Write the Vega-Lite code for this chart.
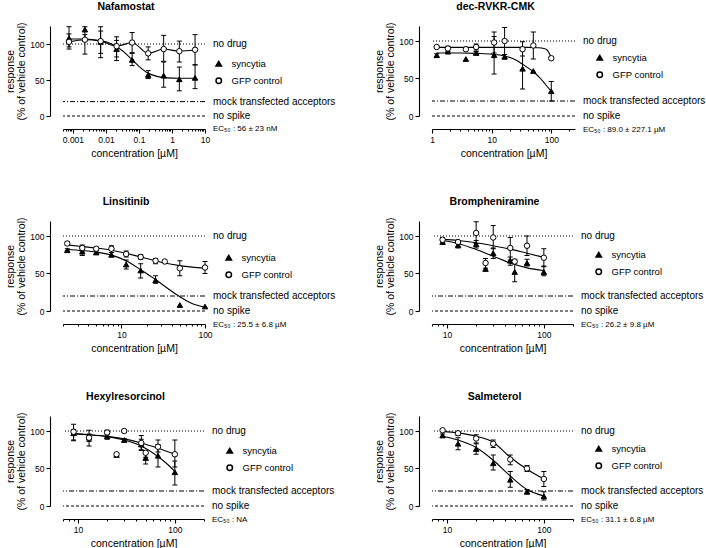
{
  "$schema": "https://vega.github.io/schema/vega-lite/v6.json",
  "padding": {"left": 5, "top": 2, "right": 0, "bottom": 0},
  "config": {
    "font": "Liberation Sans",
    "view": {"stroke": null},
    "axis": {"domainColor": "black", "domainWidth": 1.1, "tickColor": "black", "tickWidth": 1.1, "labelColor": "black", "labelFontSize": 8.5, "titleColor": "black", "titleFontSize": 10.5, "titleFontWeight": "normal", "grid": false, "labelFlush": false, "labelOverlap": false},
    "axisX": {"offset": 13, "labelPadding": 2, "titlePadding": 5},
    "axisY": {"offset": 13, "labelPadding": 2, "titlePadding": 3, "titleLineHeight": 11},
    "title": {"fontSize": 10.5, "fontWeight": "bold", "color": "black", "offset": 9, "dx": -8},
    "legend": {"labelFontSize": 9.5, "labelColor": "black", "symbolSize": 30, "labelOffset": 8, "rowPadding": 5, "padding": 0}
  },
  "datasets": {
    "refs": [
      {"level": 100, "label": "no drug"},
      {"level": 20, "label": "mock transfected acceptors"},
      {"level": 0, "label": "no spike"}
    ],
    "ec50": [
      {"drug": "Nafamostat", "note": "EC₅₀ : 56 ± 23 nM"},
      {"drug": "dec-RVKR-CMK", "note": "EC₅₀ : 89.0 ± 227.1 µM"},
      {"drug": "Linsitinib", "note": "EC₅₀ : 25.5 ± 6.8 µM"},
      {"drug": "Brompheniramine", "note": "EC₅₀ : 26.2 ± 9.8 µM"},
      {"drug": "Hexylresorcinol", "note": "EC₅₀ : NA"},
      {"drug": "Salmeterol", "note": "EC₅₀ : 31.1 ± 6.8 µM"}
    ],
    "points": [
      {"drug": "Nafamostat", "series": "syncytia", "conc": 0.00076, "resp": 108, "lo": 93, "hi": 124},
      {"drug": "Nafamostat", "series": "syncytia", "conc": 0.0023, "resp": 120, "lo": 104, "hi": 124},
      {"drug": "Nafamostat", "series": "syncytia", "conc": 0.0069, "resp": 103, "lo": 81, "hi": 124},
      {"drug": "Nafamostat", "series": "syncytia", "conc": 0.021, "resp": 93, "lo": 77, "hi": 105},
      {"drug": "Nafamostat", "series": "syncytia", "conc": 0.062, "resp": 78, "lo": 70, "hi": 87},
      {"drug": "Nafamostat", "series": "syncytia", "conc": 0.19, "resp": 57, "lo": 52, "hi": 63},
      {"drug": "Nafamostat", "series": "syncytia", "conc": 0.56, "resp": 56, "lo": 40, "hi": 75},
      {"drug": "Nafamostat", "series": "syncytia", "conc": 1.67, "resp": 51, "lo": 35, "hi": 68},
      {"drug": "Nafamostat", "series": "syncytia", "conc": 5, "resp": 53, "lo": 38, "hi": 71},
      {"drug": "Nafamostat", "series": "GFP control", "conc": 0.00076, "resp": 103, "lo": 96, "hi": 114},
      {"drug": "Nafamostat", "series": "GFP control", "conc": 0.0023, "resp": 106, "lo": 86, "hi": 113},
      {"drug": "Nafamostat", "series": "GFP control", "conc": 0.0069, "resp": 104, "lo": 87, "hi": 118},
      {"drug": "Nafamostat", "series": "GFP control", "conc": 0.021, "resp": 97, "lo": 82, "hi": 110},
      {"drug": "Nafamostat", "series": "GFP control", "conc": 0.062, "resp": 102, "lo": 88, "hi": 116},
      {"drug": "Nafamostat", "series": "GFP control", "conc": 0.19, "resp": 87, "lo": 78, "hi": 96},
      {"drug": "Nafamostat", "series": "GFP control", "conc": 0.56, "resp": 93, "lo": 76, "hi": 112},
      {"drug": "Nafamostat", "series": "GFP control", "conc": 1.67, "resp": 90, "lo": 75, "hi": 104},
      {"drug": "Nafamostat", "series": "GFP control", "conc": 5, "resp": 92, "lo": 71, "hi": 113},

      {"drug": "dec-RVKR-CMK", "series": "syncytia", "conc": 1.2, "resp": 81, "lo": 79, "hi": 83},
      {"drug": "dec-RVKR-CMK", "series": "syncytia", "conc": 1.85, "resp": 86, "lo": 83, "hi": 89},
      {"drug": "dec-RVKR-CMK", "series": "syncytia", "conc": 3.7, "resp": 76},
      {"drug": "dec-RVKR-CMK", "series": "syncytia", "conc": 5.5, "resp": 84, "lo": 82, "hi": 86},
      {"drug": "dec-RVKR-CMK", "series": "syncytia", "conc": 11, "resp": 81, "lo": 56, "hi": 106},
      {"drug": "dec-RVKR-CMK", "series": "syncytia", "conc": 16.5, "resp": 79, "lo": 76, "hi": 82},
      {"drug": "dec-RVKR-CMK", "series": "syncytia", "conc": 33, "resp": 63, "lo": 36, "hi": 88},
      {"drug": "dec-RVKR-CMK", "series": "syncytia", "conc": 50, "resp": 60},
      {"drug": "dec-RVKR-CMK", "series": "syncytia", "conc": 100, "resp": 33, "lo": 20, "hi": 46},
      {"drug": "dec-RVKR-CMK", "series": "GFP control", "conc": 1.2, "resp": 92},
      {"drug": "dec-RVKR-CMK", "series": "GFP control", "conc": 1.85, "resp": 90, "lo": 86, "hi": 93},
      {"drug": "dec-RVKR-CMK", "series": "GFP control", "conc": 3.7, "resp": 89},
      {"drug": "dec-RVKR-CMK", "series": "GFP control", "conc": 5.5, "resp": 92, "lo": 88, "hi": 96},
      {"drug": "dec-RVKR-CMK", "series": "GFP control", "conc": 11, "resp": 98, "lo": 84, "hi": 112},
      {"drug": "dec-RVKR-CMK", "series": "GFP control", "conc": 16.5, "resp": 100, "lo": 82, "hi": 118},
      {"drug": "dec-RVKR-CMK", "series": "GFP control", "conc": 33, "resp": 89, "lo": 80, "hi": 99},
      {"drug": "dec-RVKR-CMK", "series": "GFP control", "conc": 50, "resp": 94, "lo": 76, "hi": 112},
      {"drug": "dec-RVKR-CMK", "series": "GFP control", "conc": 100, "resp": 77, "lo": 75, "hi": 79},

      {"drug": "Linsitinib", "series": "syncytia", "conc": 2.25, "resp": 81, "lo": 80, "hi": 83},
      {"drug": "Linsitinib", "series": "syncytia", "conc": 3.4, "resp": 79, "lo": 74, "hi": 84},
      {"drug": "Linsitinib", "series": "syncytia", "conc": 5, "resp": 78, "lo": 76, "hi": 80},
      {"drug": "Linsitinib", "series": "syncytia", "conc": 7.6, "resp": 75, "lo": 72, "hi": 78},
      {"drug": "Linsitinib", "series": "syncytia", "conc": 11.4, "resp": 62, "lo": 56, "hi": 68},
      {"drug": "Linsitinib", "series": "syncytia", "conc": 17, "resp": 54, "lo": 44, "hi": 63},
      {"drug": "Linsitinib", "series": "syncytia", "conc": 25.6, "resp": 41, "lo": 37, "hi": 47},
      {"drug": "Linsitinib", "series": "syncytia", "conc": 50, "resp": 8},
      {"drug": "Linsitinib", "series": "syncytia", "conc": 100, "resp": 6},
      {"drug": "Linsitinib", "series": "GFP control", "conc": 2.25, "resp": 90, "lo": 88, "hi": 92},
      {"drug": "Linsitinib", "series": "GFP control", "conc": 3.4, "resp": 84, "lo": 79, "hi": 88},
      {"drug": "Linsitinib", "series": "GFP control", "conc": 5, "resp": 83, "lo": 81, "hi": 85},
      {"drug": "Linsitinib", "series": "GFP control", "conc": 7.6, "resp": 83, "lo": 78, "hi": 87},
      {"drug": "Linsitinib", "series": "GFP control", "conc": 11.4, "resp": 76, "lo": 72, "hi": 80},
      {"drug": "Linsitinib", "series": "GFP control", "conc": 17, "resp": 72, "lo": 69, "hi": 75},
      {"drug": "Linsitinib", "series": "GFP control", "conc": 25.6, "resp": 67, "lo": 63, "hi": 70},
      {"drug": "Linsitinib", "series": "GFP control", "conc": 33, "resp": 66},
      {"drug": "Linsitinib", "series": "GFP control", "conc": 50, "resp": 57, "lo": 47, "hi": 67},
      {"drug": "Linsitinib", "series": "GFP control", "conc": 100, "resp": 58, "lo": 50, "hi": 66},

      {"drug": "Brompheniramine", "series": "syncytia", "conc": 9, "resp": 92, "lo": 89, "hi": 95},
      {"drug": "Brompheniramine", "series": "syncytia", "conc": 13, "resp": 88, "lo": 84, "hi": 92},
      {"drug": "Brompheniramine", "series": "syncytia", "conc": 20, "resp": 89, "lo": 84, "hi": 94},
      {"drug": "Brompheniramine", "series": "syncytia", "conc": 25, "resp": 56},
      {"drug": "Brompheniramine", "series": "syncytia", "conc": 30, "resp": 77, "lo": 70, "hi": 84},
      {"drug": "Brompheniramine", "series": "syncytia", "conc": 45, "resp": 67, "lo": 61, "hi": 72},
      {"drug": "Brompheniramine", "series": "syncytia", "conc": 50, "resp": 52, "lo": 39, "hi": 66},
      {"drug": "Brompheniramine", "series": "syncytia", "conc": 67, "resp": 64, "lo": 60, "hi": 69},
      {"drug": "Brompheniramine", "series": "syncytia", "conc": 100, "resp": 52, "lo": 47, "hi": 60},
      {"drug": "Brompheniramine", "series": "GFP control", "conc": 9, "resp": 95, "lo": 92, "hi": 98},
      {"drug": "Brompheniramine", "series": "GFP control", "conc": 13, "resp": 92, "lo": 90, "hi": 94},
      {"drug": "Brompheniramine", "series": "GFP control", "conc": 20, "resp": 104, "lo": 90, "hi": 119},
      {"drug": "Brompheniramine", "series": "GFP control", "conc": 25, "resp": 64, "lo": 57, "hi": 70},
      {"drug": "Brompheniramine", "series": "GFP control", "conc": 30, "resp": 98, "lo": 83, "hi": 114},
      {"drug": "Brompheniramine", "series": "GFP control", "conc": 45, "resp": 84, "lo": 68, "hi": 98},
      {"drug": "Brompheniramine", "series": "GFP control", "conc": 50, "resp": 66, "lo": 63, "hi": 69},
      {"drug": "Brompheniramine", "series": "GFP control", "conc": 67, "resp": 87, "lo": 74, "hi": 100},
      {"drug": "Brompheniramine", "series": "GFP control", "conc": 100, "resp": 71, "lo": 59, "hi": 83},

      {"drug": "Hexylresorcinol", "series": "syncytia", "conc": 9, "resp": 97, "lo": 88, "hi": 102},
      {"drug": "Hexylresorcinol", "series": "syncytia", "conc": 13, "resp": 91, "lo": 86, "hi": 96},
      {"drug": "Hexylresorcinol", "series": "syncytia", "conc": 20, "resp": 93, "lo": 89, "hi": 97},
      {"drug": "Hexylresorcinol", "series": "syncytia", "conc": 25, "resp": 68},
      {"drug": "Hexylresorcinol", "series": "syncytia", "conc": 30, "resp": 88, "lo": 86, "hi": 90},
      {"drug": "Hexylresorcinol", "series": "syncytia", "conc": 45, "resp": 82, "lo": 75, "hi": 89},
      {"drug": "Hexylresorcinol", "series": "syncytia", "conc": 50, "resp": 64, "lo": 56, "hi": 73},
      {"drug": "Hexylresorcinol", "series": "syncytia", "conc": 67, "resp": 67, "lo": 52, "hi": 82},
      {"drug": "Hexylresorcinol", "series": "syncytia", "conc": 100, "resp": 45, "lo": 28, "hi": 60},
      {"drug": "Hexylresorcinol", "series": "GFP control", "conc": 9, "resp": 99, "lo": 87, "hi": 109},
      {"drug": "Hexylresorcinol", "series": "GFP control", "conc": 13, "resp": 91, "lo": 80, "hi": 101},
      {"drug": "Hexylresorcinol", "series": "GFP control", "conc": 20, "resp": 98, "lo": 95, "hi": 101},
      {"drug": "Hexylresorcinol", "series": "GFP control", "conc": 25, "resp": 69, "lo": 68, "hi": 70},
      {"drug": "Hexylresorcinol", "series": "GFP control", "conc": 30, "resp": 100, "lo": 98, "hi": 101},
      {"drug": "Hexylresorcinol", "series": "GFP control", "conc": 45, "resp": 84, "lo": 74, "hi": 94},
      {"drug": "Hexylresorcinol", "series": "GFP control", "conc": 50, "resp": 71, "lo": 65, "hi": 74},
      {"drug": "Hexylresorcinol", "series": "GFP control", "conc": 67, "resp": 79, "lo": 72, "hi": 88},
      {"drug": "Hexylresorcinol", "series": "GFP control", "conc": 100, "resp": 69, "lo": 52, "hi": 88},

      {"drug": "Salmeterol", "series": "syncytia", "conc": 9, "resp": 94, "lo": 92, "hi": 96},
      {"drug": "Salmeterol", "series": "syncytia", "conc": 13, "resp": 83, "lo": 75, "hi": 91},
      {"drug": "Salmeterol", "series": "syncytia", "conc": 20, "resp": 76, "lo": 69, "hi": 83},
      {"drug": "Salmeterol", "series": "syncytia", "conc": 30, "resp": 57, "lo": 48, "hi": 68},
      {"drug": "Salmeterol", "series": "syncytia", "conc": 45, "resp": 35, "lo": 25, "hi": 46},
      {"drug": "Salmeterol", "series": "syncytia", "conc": 67, "resp": 19, "lo": 16, "hi": 22},
      {"drug": "Salmeterol", "series": "syncytia", "conc": 100, "resp": 13, "lo": 8, "hi": 19},
      {"drug": "Salmeterol", "series": "GFP control", "conc": 9, "resp": 101, "lo": 100, "hi": 102},
      {"drug": "Salmeterol", "series": "GFP control", "conc": 13, "resp": 97, "lo": 94, "hi": 99},
      {"drug": "Salmeterol", "series": "GFP control", "conc": 20, "resp": 90, "lo": 84, "hi": 95},
      {"drug": "Salmeterol", "series": "GFP control", "conc": 30, "resp": 83, "lo": 78, "hi": 88},
      {"drug": "Salmeterol", "series": "GFP control", "conc": 45, "resp": 62, "lo": 55, "hi": 68},
      {"drug": "Salmeterol", "series": "GFP control", "conc": 67, "resp": 50, "lo": 46, "hi": 54},
      {"drug": "Salmeterol", "series": "GFP control", "conc": 100, "resp": 36, "lo": 26, "hi": 46}
    ],
    "curves": [
      {"drug": "Nafamostat", "series": "syncytia", "conc": 0.00076, "resp": 107},
      {"drug": "Nafamostat", "series": "syncytia", "conc": 0.002, "resp": 107},
      {"drug": "Nafamostat", "series": "syncytia", "conc": 0.005, "resp": 105.5},
      {"drug": "Nafamostat", "series": "syncytia", "conc": 0.01, "resp": 103},
      {"drug": "Nafamostat", "series": "syncytia", "conc": 0.02, "resp": 97},
      {"drug": "Nafamostat", "series": "syncytia", "conc": 0.035, "resp": 89},
      {"drug": "Nafamostat", "series": "syncytia", "conc": 0.056, "resp": 80},
      {"drug": "Nafamostat", "series": "syncytia", "conc": 0.1, "resp": 69},
      {"drug": "Nafamostat", "series": "syncytia", "conc": 0.18, "resp": 60},
      {"drug": "Nafamostat", "series": "syncytia", "conc": 0.35, "resp": 55},
      {"drug": "Nafamostat", "series": "syncytia", "conc": 0.7, "resp": 53},
      {"drug": "Nafamostat", "series": "syncytia", "conc": 1.67, "resp": 52.5},
      {"drug": "Nafamostat", "series": "syncytia", "conc": 5, "resp": 52.5},
      {"drug": "Nafamostat", "series": "GFP control", "conc": 0.00076, "resp": 103},
      {"drug": "Nafamostat", "series": "GFP control", "conc": 0.0023, "resp": 106},
      {"drug": "Nafamostat", "series": "GFP control", "conc": 0.0069, "resp": 104},
      {"drug": "Nafamostat", "series": "GFP control", "conc": 0.021, "resp": 97},
      {"drug": "Nafamostat", "series": "GFP control", "conc": 0.062, "resp": 102},
      {"drug": "Nafamostat", "series": "GFP control", "conc": 0.19, "resp": 87},
      {"drug": "Nafamostat", "series": "GFP control", "conc": 0.56, "resp": 93},
      {"drug": "Nafamostat", "series": "GFP control", "conc": 1.67, "resp": 90},
      {"drug": "Nafamostat", "series": "GFP control", "conc": 5, "resp": 92},

      {"drug": "dec-RVKR-CMK", "series": "syncytia", "conc": 1.2, "resp": 84},
      {"drug": "dec-RVKR-CMK", "series": "syncytia", "conc": 3, "resp": 84},
      {"drug": "dec-RVKR-CMK", "series": "syncytia", "conc": 6, "resp": 83.5},
      {"drug": "dec-RVKR-CMK", "series": "syncytia", "conc": 10, "resp": 82.5},
      {"drug": "dec-RVKR-CMK", "series": "syncytia", "conc": 16.5, "resp": 80},
      {"drug": "dec-RVKR-CMK", "series": "syncytia", "conc": 25, "resp": 75},
      {"drug": "dec-RVKR-CMK", "series": "syncytia", "conc": 33, "resp": 69},
      {"drug": "dec-RVKR-CMK", "series": "syncytia", "conc": 50, "resp": 59},
      {"drug": "dec-RVKR-CMK", "series": "syncytia", "conc": 66, "resp": 50},
      {"drug": "dec-RVKR-CMK", "series": "syncytia", "conc": 80, "resp": 42},
      {"drug": "dec-RVKR-CMK", "series": "syncytia", "conc": 100, "resp": 33},
      {"drug": "dec-RVKR-CMK", "series": "GFP control", "conc": 1.2, "resp": 91.5},
      {"drug": "dec-RVKR-CMK", "series": "GFP control", "conc": 10, "resp": 91.5},
      {"drug": "dec-RVKR-CMK", "series": "GFP control", "conc": 40, "resp": 91.5},
      {"drug": "dec-RVKR-CMK", "series": "GFP control", "conc": 60, "resp": 91},
      {"drug": "dec-RVKR-CMK", "series": "GFP control", "conc": 75, "resp": 90},
      {"drug": "dec-RVKR-CMK", "series": "GFP control", "conc": 85, "resp": 88},
      {"drug": "dec-RVKR-CMK", "series": "GFP control", "conc": 92, "resp": 84},
      {"drug": "dec-RVKR-CMK", "series": "GFP control", "conc": 97, "resp": 80},
      {"drug": "dec-RVKR-CMK", "series": "GFP control", "conc": 100, "resp": 77},

      {"drug": "Linsitinib", "series": "syncytia", "conc": 2.25, "resp": 82},
      {"drug": "Linsitinib", "series": "syncytia", "conc": 3.4, "resp": 80.5},
      {"drug": "Linsitinib", "series": "syncytia", "conc": 5, "resp": 78.5},
      {"drug": "Linsitinib", "series": "syncytia", "conc": 7.6, "resp": 74.5},
      {"drug": "Linsitinib", "series": "syncytia", "conc": 11.4, "resp": 67},
      {"drug": "Linsitinib", "series": "syncytia", "conc": 17, "resp": 55},
      {"drug": "Linsitinib", "series": "syncytia", "conc": 25.6, "resp": 42},
      {"drug": "Linsitinib", "series": "syncytia", "conc": 33, "resp": 33},
      {"drug": "Linsitinib", "series": "syncytia", "conc": 50, "resp": 19},
      {"drug": "Linsitinib", "series": "syncytia", "conc": 70, "resp": 10},
      {"drug": "Linsitinib", "series": "syncytia", "conc": 100, "resp": 5},
      {"drug": "Linsitinib", "series": "GFP control", "conc": 2.25, "resp": 88},
      {"drug": "Linsitinib", "series": "GFP control", "conc": 3.4, "resp": 86},
      {"drug": "Linsitinib", "series": "GFP control", "conc": 5, "resp": 84},
      {"drug": "Linsitinib", "series": "GFP control", "conc": 7.6, "resp": 81},
      {"drug": "Linsitinib", "series": "GFP control", "conc": 11.4, "resp": 77},
      {"drug": "Linsitinib", "series": "GFP control", "conc": 17, "resp": 72},
      {"drug": "Linsitinib", "series": "GFP control", "conc": 25.6, "resp": 67},
      {"drug": "Linsitinib", "series": "GFP control", "conc": 33, "resp": 64},
      {"drug": "Linsitinib", "series": "GFP control", "conc": 50, "resp": 60.5},
      {"drug": "Linsitinib", "series": "GFP control", "conc": 70, "resp": 58.5},
      {"drug": "Linsitinib", "series": "GFP control", "conc": 100, "resp": 57},

      {"drug": "Brompheniramine", "series": "syncytia", "conc": 9, "resp": 94},
      {"drug": "Brompheniramine", "series": "syncytia", "conc": 13, "resp": 90},
      {"drug": "Brompheniramine", "series": "syncytia", "conc": 20, "resp": 82},
      {"drug": "Brompheniramine", "series": "syncytia", "conc": 30, "resp": 73},
      {"drug": "Brompheniramine", "series": "syncytia", "conc": 45, "resp": 64},
      {"drug": "Brompheniramine", "series": "syncytia", "conc": 67, "resp": 57.5},
      {"drug": "Brompheniramine", "series": "syncytia", "conc": 100, "resp": 54},
      {"drug": "Brompheniramine", "series": "GFP control", "conc": 9, "resp": 95.5},
      {"drug": "Brompheniramine", "series": "GFP control", "conc": 13, "resp": 94},
      {"drug": "Brompheniramine", "series": "GFP control", "conc": 20, "resp": 91},
      {"drug": "Brompheniramine", "series": "GFP control", "conc": 30, "resp": 87},
      {"drug": "Brompheniramine", "series": "GFP control", "conc": 45, "resp": 82.5},
      {"drug": "Brompheniramine", "series": "GFP control", "conc": 67, "resp": 77},
      {"drug": "Brompheniramine", "series": "GFP control", "conc": 100, "resp": 71.5},

      {"drug": "Hexylresorcinol", "series": "syncytia", "conc": 9, "resp": 96.5},
      {"drug": "Hexylresorcinol", "series": "syncytia", "conc": 13, "resp": 95},
      {"drug": "Hexylresorcinol", "series": "syncytia", "conc": 20, "resp": 92.5},
      {"drug": "Hexylresorcinol", "series": "syncytia", "conc": 30, "resp": 88},
      {"drug": "Hexylresorcinol", "series": "syncytia", "conc": 45, "resp": 80},
      {"drug": "Hexylresorcinol", "series": "syncytia", "conc": 67, "resp": 66},
      {"drug": "Hexylresorcinol", "series": "syncytia", "conc": 85, "resp": 55},
      {"drug": "Hexylresorcinol", "series": "syncytia", "conc": 100, "resp": 46},
      {"drug": "Hexylresorcinol", "series": "GFP control", "conc": 9, "resp": 96},
      {"drug": "Hexylresorcinol", "series": "GFP control", "conc": 13, "resp": 95},
      {"drug": "Hexylresorcinol", "series": "GFP control", "conc": 20, "resp": 93},
      {"drug": "Hexylresorcinol", "series": "GFP control", "conc": 30, "resp": 89.5},
      {"drug": "Hexylresorcinol", "series": "GFP control", "conc": 45, "resp": 84},
      {"drug": "Hexylresorcinol", "series": "GFP control", "conc": 67, "resp": 77},
      {"drug": "Hexylresorcinol", "series": "GFP control", "conc": 100, "resp": 69},

      {"drug": "Salmeterol", "series": "syncytia", "conc": 9, "resp": 93},
      {"drug": "Salmeterol", "series": "syncytia", "conc": 13, "resp": 88},
      {"drug": "Salmeterol", "series": "syncytia", "conc": 20, "resp": 78},
      {"drug": "Salmeterol", "series": "syncytia", "conc": 30, "resp": 61},
      {"drug": "Salmeterol", "series": "syncytia", "conc": 45, "resp": 40},
      {"drug": "Salmeterol", "series": "syncytia", "conc": 67, "resp": 22},
      {"drug": "Salmeterol", "series": "syncytia", "conc": 100, "resp": 13.5},
      {"drug": "Salmeterol", "series": "GFP control", "conc": 9, "resp": 99.5},
      {"drug": "Salmeterol", "series": "GFP control", "conc": 13, "resp": 97.5},
      {"drug": "Salmeterol", "series": "GFP control", "conc": 20, "resp": 93},
      {"drug": "Salmeterol", "series": "GFP control", "conc": 30, "resp": 85},
      {"drug": "Salmeterol", "series": "GFP control", "conc": 45, "resp": 65},
      {"drug": "Salmeterol", "series": "GFP control", "conc": 67, "resp": 49},
      {"drug": "Salmeterol", "series": "GFP control", "conc": 100, "resp": 36}
    ]
  },
  "columns": 2,
  "spacing": {"row": 105, "column": 227},
  "bounds": "flush",
  "resolve": {
    "scale": {"shape": "independent", "fill": "independent"},
    "legend": {"shape": "independent", "fill": "independent"}
  },
  "concat": [
    {
      "title": {"text": "Nafamostat"},
      "width": 142, "height": 90,
      "layer": [
        {"data": {"name": "refs"}, "mark": {"type": "rule", "color": "black", "strokeWidth": 1},
         "encoding": {"y": {"field": "level", "type": "quantitative", "scale": {"domain": [0, 125], "nice": false}, "axis": {"title": ["response", "(% of vehicle control)"], "values": [0, 50, 100], "tickSize": 4}},
                      "strokeDash": {"field": "label", "type": "nominal", "scale": {"domain": ["no drug", "mock transfected acceptors", "no spike"], "range": [[1, 2], [5, 2, 1, 2], [3, 2]]}, "legend": null}}},
        {"data": {"name": "refs"}, "mark": {"type": "text", "align": "left", "baseline": "middle", "dx": 8, "fontSize": 10, "color": "black"},
         "encoding": {"x": {"value": "width"}, "y": {"field": "level", "type": "quantitative"}, "text": {"field": "label"}}},
        {"data": {"name": "ec50"}, "transform": [{"filter": "datum.drug == 'Nafamostat'"}], "mark": {"type": "text", "align": "left", "baseline": "middle", "dx": 8, "fontSize": 8, "color": "black"},
         "encoding": {"x": {"value": "width"}, "y": {"datum": -18, "type": "quantitative"}, "text": {"field": "note"}}},
        {"data": {"name": "curves"}, "transform": [{"filter": "datum.drug == 'Nafamostat'"}], "mark": {"type": "line", "color": "black", "strokeWidth": 1.1, "interpolate": "monotone"},
         "encoding": {"x": {"field": "conc", "type": "quantitative", "scale": {"type": "log", "domain": [0.0005, 10], "nice": false},
                 "axis": {"title": "concentration [µM]", "values": [0.0005, 0.0006, 0.0007, 0.0008, 0.0009, 0.001, 0.002, 0.003, 0.004, 0.005, 0.006, 0.007, 0.008, 0.009, 0.01, 0.02, 0.03, 0.04, 0.05, 0.06, 0.07, 0.08, 0.09, 0.1, 0.2, 0.3, 0.4, 0.5, 0.6, 0.7, 0.8, 0.9, 1, 2, 3, 4, 5, 6, 7, 8, 9, 10],
                          "labelExpr": "abs(log(datum.value)/LN10 - round(log(datum.value)/LN10)) < 0.01 ? format(datum.value, '~g') : ''",
                          "tickSize": {"condition": {"test": "abs(log(datum.value)/LN10 - round(log(datum.value)/LN10)) < 0.01", "value": 4}, "value": 2}}},
                      "y": {"field": "resp", "type": "quantitative"}, "detail": {"field": "series"}}},
        {"data": {"name": "points"}, "transform": [{"filter": "datum.drug == 'Nafamostat' && isValid(datum.lo)"}], "mark": {"type": "rule", "color": "black", "strokeWidth": 1},
         "encoding": {"x": {"field": "conc", "type": "quantitative"}, "y": {"field": "lo", "type": "quantitative"}, "y2": {"field": "hi"}}},
        {"data": {"name": "points"}, "transform": [{"filter": "datum.drug == 'Nafamostat' && isValid(datum.lo)"}], "mark": {"type": "tick", "orient": "horizontal", "color": "black", "size": 5, "thickness": 1, "opacity": 1},
         "encoding": {"x": {"field": "conc", "type": "quantitative"}, "y": {"field": "lo", "type": "quantitative"}}},
        {"data": {"name": "points"}, "transform": [{"filter": "datum.drug == 'Nafamostat' && isValid(datum.lo)"}], "mark": {"type": "tick", "orient": "horizontal", "color": "black", "size": 5, "thickness": 1, "opacity": 1},
         "encoding": {"x": {"field": "conc", "type": "quantitative"}, "y": {"field": "hi", "type": "quantitative"}}},
        {"data": {"name": "points"}, "transform": [{"filter": "datum.drug == 'Nafamostat'"}], "mark": {"type": "point", "filled": true, "stroke": "black", "strokeWidth": 1, "size": 30, "opacity": 1},
         "encoding": {
           "x": {"field": "conc", "type": "quantitative"},
           "y": {"field": "resp", "type": "quantitative"},
           "shape": {"field": "series", "type": "nominal", "scale": {"domain": ["syncytia", "GFP control"], "range": ["triangle-up", "circle"]}, "legend": {"title": null, "orient": "none", "legendX": 151, "legendY": 33, "encode": {"symbols": {"stroke": {"value": "black"}, "strokeWidth": {"value": 1}}}}},
           "fill": {"field": "series", "type": "nominal", "scale": {"domain": ["syncytia", "GFP control"], "range": ["black", "white"]}, "legend": {"title": null, "orient": "none", "legendX": 151, "legendY": 33, "encode": {"symbols": {"stroke": {"value": "black"}, "strokeWidth": {"value": 1}}}}}}}
      ]
    },
    {
      "title": {"text": "dec-RVKR-CMK"},
      "width": 143, "height": 90,
      "layer": [
        {"data": {"name": "refs"}, "mark": {"type": "rule", "color": "black", "strokeWidth": 1},
         "encoding": {"y": {"field": "level", "type": "quantitative", "scale": {"domain": [0, 120], "nice": false}, "axis": {"title": ["response", "(% of vehicle control)"], "values": [0, 50, 100], "tickSize": 4}},
                      "strokeDash": {"field": "label", "type": "nominal", "scale": {"domain": ["no drug", "mock transfected acceptors", "no spike"], "range": [[1, 2], [5, 2, 1, 2], [3, 2]]}, "legend": null}}},
        {"data": {"name": "refs"}, "mark": {"type": "text", "align": "left", "baseline": "middle", "dx": 8, "fontSize": 10, "color": "black"},
         "encoding": {"x": {"value": "width"}, "y": {"field": "level", "type": "quantitative"}, "text": {"field": "label"}}},
        {"data": {"name": "ec50"}, "transform": [{"filter": "datum.drug == 'dec-RVKR-CMK'"}], "mark": {"type": "text", "align": "left", "baseline": "middle", "dx": 8, "fontSize": 8, "color": "black"},
         "encoding": {"x": {"value": "width"}, "y": {"datum": -18, "type": "quantitative"}, "text": {"field": "note"}}},
        {"data": {"name": "curves"}, "transform": [{"filter": "datum.drug == 'dec-RVKR-CMK'"}], "mark": {"type": "line", "color": "black", "strokeWidth": 1.1, "interpolate": "monotone"},
         "encoding": {"x": {"field": "conc", "type": "quantitative", "scale": {"type": "log", "domain": [1, 250], "nice": false},
                 "axis": {"title": "concentration [µM]", "values": [1, 2, 3, 4, 5, 6, 7, 8, 9, 10, 20, 30, 40, 50, 60, 70, 80, 90, 100, 200],
                          "labelExpr": "abs(log(datum.value)/LN10 - round(log(datum.value)/LN10)) < 0.01 ? format(datum.value, '~g') : ''",
                          "tickSize": {"condition": {"test": "abs(log(datum.value)/LN10 - round(log(datum.value)/LN10)) < 0.01", "value": 4}, "value": 2}}},
                      "y": {"field": "resp", "type": "quantitative"}, "detail": {"field": "series"}}},
        {"data": {"name": "points"}, "transform": [{"filter": "datum.drug == 'dec-RVKR-CMK' && isValid(datum.lo)"}], "mark": {"type": "rule", "color": "black", "strokeWidth": 1},
         "encoding": {"x": {"field": "conc", "type": "quantitative"}, "y": {"field": "lo", "type": "quantitative"}, "y2": {"field": "hi"}}},
        {"data": {"name": "points"}, "transform": [{"filter": "datum.drug == 'dec-RVKR-CMK' && isValid(datum.lo)"}], "mark": {"type": "tick", "orient": "horizontal", "color": "black", "size": 5, "thickness": 1, "opacity": 1},
         "encoding": {"x": {"field": "conc", "type": "quantitative"}, "y": {"field": "lo", "type": "quantitative"}}},
        {"data": {"name": "points"}, "transform": [{"filter": "datum.drug == 'dec-RVKR-CMK' && isValid(datum.lo)"}], "mark": {"type": "tick", "orient": "horizontal", "color": "black", "size": 5, "thickness": 1, "opacity": 1},
         "encoding": {"x": {"field": "conc", "type": "quantitative"}, "y": {"field": "hi", "type": "quantitative"}}},
        {"data": {"name": "points"}, "transform": [{"filter": "datum.drug == 'dec-RVKR-CMK'"}], "mark": {"type": "point", "filled": true, "stroke": "black", "strokeWidth": 1, "size": 30, "opacity": 1},
         "encoding": {
           "x": {"field": "conc", "type": "quantitative"},
           "y": {"field": "resp", "type": "quantitative"},
           "shape": {"field": "series", "type": "nominal", "scale": {"domain": ["syncytia", "GFP control"], "range": ["triangle-up", "circle"]}, "legend": {"title": null, "orient": "none", "legendX": 163, "legendY": 27, "encode": {"symbols": {"stroke": {"value": "black"}, "strokeWidth": {"value": 1}}}}},
           "fill": {"field": "series", "type": "nominal", "scale": {"domain": ["syncytia", "GFP control"], "range": ["black", "white"]}, "legend": {"title": null, "orient": "none", "legendX": 163, "legendY": 27, "encode": {"symbols": {"stroke": {"value": "black"}, "strokeWidth": {"value": 1}}}}}}}
      ]
    },
    {
      "title": {"text": "Linsitinib"},
      "width": 142, "height": 90,
      "layer": [
        {"data": {"name": "refs"}, "mark": {"type": "rule", "color": "black", "strokeWidth": 1},
         "encoding": {"y": {"field": "level", "type": "quantitative", "scale": {"domain": [0, 120], "nice": false}, "axis": {"title": ["response", "(% of vehicle control)"], "values": [0, 50, 100], "tickSize": 4}},
                      "strokeDash": {"field": "label", "type": "nominal", "scale": {"domain": ["no drug", "mock transfected acceptors", "no spike"], "range": [[1, 2], [5, 2, 1, 2], [3, 2]]}, "legend": null}}},
        {"data": {"name": "refs"}, "mark": {"type": "text", "align": "left", "baseline": "middle", "dx": 8, "fontSize": 10, "color": "black"},
         "encoding": {"x": {"value": "width"}, "y": {"field": "level", "type": "quantitative"}, "text": {"field": "label"}}},
        {"data": {"name": "ec50"}, "transform": [{"filter": "datum.drug == 'Linsitinib'"}], "mark": {"type": "text", "align": "left", "baseline": "middle", "dx": 8, "fontSize": 8, "color": "black"},
         "encoding": {"x": {"value": "width"}, "y": {"datum": -18, "type": "quantitative"}, "text": {"field": "note"}}},
        {"data": {"name": "curves"}, "transform": [{"filter": "datum.drug == 'Linsitinib'"}], "mark": {"type": "line", "color": "black", "strokeWidth": 1.1, "interpolate": "monotone"},
         "encoding": {"x": {"field": "conc", "type": "quantitative", "scale": {"type": "log", "domain": [2, 100], "nice": false},
                 "axis": {"title": "concentration [µM]", "values": [2, 3, 4, 5, 6, 7, 8, 9, 10, 20, 30, 40, 50, 60, 70, 80, 90, 100],
                          "labelExpr": "abs(log(datum.value)/LN10 - round(log(datum.value)/LN10)) < 0.01 ? format(datum.value, '~g') : ''",
                          "tickSize": {"condition": {"test": "abs(log(datum.value)/LN10 - round(log(datum.value)/LN10)) < 0.01", "value": 4}, "value": 2}}},
                      "y": {"field": "resp", "type": "quantitative"}, "detail": {"field": "series"}}},
        {"data": {"name": "points"}, "transform": [{"filter": "datum.drug == 'Linsitinib' && isValid(datum.lo)"}], "mark": {"type": "rule", "color": "black", "strokeWidth": 1},
         "encoding": {"x": {"field": "conc", "type": "quantitative"}, "y": {"field": "lo", "type": "quantitative"}, "y2": {"field": "hi"}}},
        {"data": {"name": "points"}, "transform": [{"filter": "datum.drug == 'Linsitinib' && isValid(datum.lo)"}], "mark": {"type": "tick", "orient": "horizontal", "color": "black", "size": 5, "thickness": 1, "opacity": 1},
         "encoding": {"x": {"field": "conc", "type": "quantitative"}, "y": {"field": "lo", "type": "quantitative"}}},
        {"data": {"name": "points"}, "transform": [{"filter": "datum.drug == 'Linsitinib' && isValid(datum.lo)"}], "mark": {"type": "tick", "orient": "horizontal", "color": "black", "size": 5, "thickness": 1, "opacity": 1},
         "encoding": {"x": {"field": "conc", "type": "quantitative"}, "y": {"field": "hi", "type": "quantitative"}}},
        {"data": {"name": "points"}, "transform": [{"filter": "datum.drug == 'Linsitinib'"}], "mark": {"type": "point", "filled": true, "stroke": "black", "strokeWidth": 1, "size": 30, "opacity": 1},
         "encoding": {
           "x": {"field": "conc", "type": "quantitative"},
           "y": {"field": "resp", "type": "quantitative"},
           "shape": {"field": "series", "type": "nominal", "scale": {"domain": ["syncytia", "GFP control"], "range": ["triangle-up", "circle"]}, "legend": {"title": null, "orient": "none", "legendX": 161, "legendY": 32, "encode": {"symbols": {"stroke": {"value": "black"}, "strokeWidth": {"value": 1}}}}},
           "fill": {"field": "series", "type": "nominal", "scale": {"domain": ["syncytia", "GFP control"], "range": ["black", "white"]}, "legend": {"title": null, "orient": "none", "legendX": 161, "legendY": 32, "encode": {"symbols": {"stroke": {"value": "black"}, "strokeWidth": {"value": 1}}}}}}}
      ]
    },
    {
      "title": {"text": "Brompheniramine"},
      "width": 141, "height": 90,
      "layer": [
        {"data": {"name": "refs"}, "mark": {"type": "rule", "color": "black", "strokeWidth": 1},
         "encoding": {"y": {"field": "level", "type": "quantitative", "scale": {"domain": [0, 120], "nice": false}, "axis": {"title": ["response", "(% of vehicle control)"], "values": [0, 50, 100], "tickSize": 4}},
                      "strokeDash": {"field": "label", "type": "nominal", "scale": {"domain": ["no drug", "mock transfected acceptors", "no spike"], "range": [[1, 2], [5, 2, 1, 2], [3, 2]]}, "legend": null}}},
        {"data": {"name": "refs"}, "mark": {"type": "text", "align": "left", "baseline": "middle", "dx": 8, "fontSize": 10, "color": "black"},
         "encoding": {"x": {"value": "width"}, "y": {"field": "level", "type": "quantitative"}, "text": {"field": "label"}}},
        {"data": {"name": "ec50"}, "transform": [{"filter": "datum.drug == 'Brompheniramine'"}], "mark": {"type": "text", "align": "left", "baseline": "middle", "dx": 8, "fontSize": 8, "color": "black"},
         "encoding": {"x": {"value": "width"}, "y": {"datum": -18, "type": "quantitative"}, "text": {"field": "note"}}},
        {"data": {"name": "curves"}, "transform": [{"filter": "datum.drug == 'Brompheniramine'"}], "mark": {"type": "line", "color": "black", "strokeWidth": 1.1, "interpolate": "monotone"},
         "encoding": {"x": {"field": "conc", "type": "quantitative", "scale": {"type": "log", "domain": [7, 200], "nice": false},
                 "axis": {"title": "concentration [µM]", "values": [7, 8, 9, 10, 20, 30, 40, 50, 60, 70, 80, 90, 100, 200],
                          "labelExpr": "abs(log(datum.value)/LN10 - round(log(datum.value)/LN10)) < 0.01 ? format(datum.value, '~g') : ''",
                          "tickSize": {"condition": {"test": "abs(log(datum.value)/LN10 - round(log(datum.value)/LN10)) < 0.01", "value": 4}, "value": 2}}},
                      "y": {"field": "resp", "type": "quantitative"}, "detail": {"field": "series"}}},
        {"data": {"name": "points"}, "transform": [{"filter": "datum.drug == 'Brompheniramine' && isValid(datum.lo)"}], "mark": {"type": "rule", "color": "black", "strokeWidth": 1},
         "encoding": {"x": {"field": "conc", "type": "quantitative"}, "y": {"field": "lo", "type": "quantitative"}, "y2": {"field": "hi"}}},
        {"data": {"name": "points"}, "transform": [{"filter": "datum.drug == 'Brompheniramine' && isValid(datum.lo)"}], "mark": {"type": "tick", "orient": "horizontal", "color": "black", "size": 5, "thickness": 1, "opacity": 1},
         "encoding": {"x": {"field": "conc", "type": "quantitative"}, "y": {"field": "lo", "type": "quantitative"}}},
        {"data": {"name": "points"}, "transform": [{"filter": "datum.drug == 'Brompheniramine' && isValid(datum.lo)"}], "mark": {"type": "tick", "orient": "horizontal", "color": "black", "size": 5, "thickness": 1, "opacity": 1},
         "encoding": {"x": {"field": "conc", "type": "quantitative"}, "y": {"field": "hi", "type": "quantitative"}}},
        {"data": {"name": "points"}, "transform": [{"filter": "datum.drug == 'Brompheniramine'"}], "mark": {"type": "point", "filled": true, "stroke": "black", "strokeWidth": 1, "size": 30, "opacity": 1},
         "encoding": {
           "x": {"field": "conc", "type": "quantitative"},
           "y": {"field": "resp", "type": "quantitative"},
           "shape": {"field": "series", "type": "nominal", "scale": {"domain": ["syncytia", "GFP control"], "range": ["triangle-up", "circle"]}, "legend": {"title": null, "orient": "none", "legendX": 162, "legendY": 29, "encode": {"symbols": {"stroke": {"value": "black"}, "strokeWidth": {"value": 1}}}}},
           "fill": {"field": "series", "type": "nominal", "scale": {"domain": ["syncytia", "GFP control"], "range": ["black", "white"]}, "legend": {"title": null, "orient": "none", "legendX": 162, "legendY": 29, "encode": {"symbols": {"stroke": {"value": "black"}, "strokeWidth": {"value": 1}}}}}}}
      ]
    },
    {
      "title": {"text": "Hexylresorcinol"},
      "width": 141, "height": 90,
      "layer": [
        {"data": {"name": "refs"}, "mark": {"type": "rule", "color": "black", "strokeWidth": 1},
         "encoding": {"y": {"field": "level", "type": "quantitative", "scale": {"domain": [0, 120], "nice": false}, "axis": {"title": ["response", "(% of vehicle control)"], "values": [0, 50, 100], "tickSize": 4}},
                      "strokeDash": {"field": "label", "type": "nominal", "scale": {"domain": ["no drug", "mock transfected acceptors", "no spike"], "range": [[1, 2], [5, 2, 1, 2], [3, 2]]}, "legend": null}}},
        {"data": {"name": "refs"}, "mark": {"type": "text", "align": "left", "baseline": "middle", "dx": 8, "fontSize": 10, "color": "black"},
         "encoding": {"x": {"value": "width"}, "y": {"field": "level", "type": "quantitative"}, "text": {"field": "label"}}},
        {"data": {"name": "ec50"}, "transform": [{"filter": "datum.drug == 'Hexylresorcinol'"}], "mark": {"type": "text", "align": "left", "baseline": "middle", "dx": 8, "fontSize": 8, "color": "black"},
         "encoding": {"x": {"value": "width"}, "y": {"datum": -18, "type": "quantitative"}, "text": {"field": "note"}}},
        {"data": {"name": "curves"}, "transform": [{"filter": "datum.drug == 'Hexylresorcinol'"}], "mark": {"type": "line", "color": "black", "strokeWidth": 1.1, "interpolate": "monotone"},
         "encoding": {"x": {"field": "conc", "type": "quantitative", "scale": {"type": "log", "domain": [7, 200], "nice": false},
                 "axis": {"title": "concentration [µM]", "values": [7, 8, 9, 10, 20, 30, 40, 50, 60, 70, 80, 90, 100, 200],
                          "labelExpr": "abs(log(datum.value)/LN10 - round(log(datum.value)/LN10)) < 0.01 ? format(datum.value, '~g') : ''",
                          "tickSize": {"condition": {"test": "abs(log(datum.value)/LN10 - round(log(datum.value)/LN10)) < 0.01", "value": 4}, "value": 2}}},
                      "y": {"field": "resp", "type": "quantitative"}, "detail": {"field": "series"}}},
        {"data": {"name": "points"}, "transform": [{"filter": "datum.drug == 'Hexylresorcinol' && isValid(datum.lo)"}], "mark": {"type": "rule", "color": "black", "strokeWidth": 1},
         "encoding": {"x": {"field": "conc", "type": "quantitative"}, "y": {"field": "lo", "type": "quantitative"}, "y2": {"field": "hi"}}},
        {"data": {"name": "points"}, "transform": [{"filter": "datum.drug == 'Hexylresorcinol' && isValid(datum.lo)"}], "mark": {"type": "tick", "orient": "horizontal", "color": "black", "size": 5, "thickness": 1, "opacity": 1},
         "encoding": {"x": {"field": "conc", "type": "quantitative"}, "y": {"field": "lo", "type": "quantitative"}}},
        {"data": {"name": "points"}, "transform": [{"filter": "datum.drug == 'Hexylresorcinol' && isValid(datum.lo)"}], "mark": {"type": "tick", "orient": "horizontal", "color": "black", "size": 5, "thickness": 1, "opacity": 1},
         "encoding": {"x": {"field": "conc", "type": "quantitative"}, "y": {"field": "hi", "type": "quantitative"}}},
        {"data": {"name": "points"}, "transform": [{"filter": "datum.drug == 'Hexylresorcinol'"}], "mark": {"type": "point", "filled": true, "stroke": "black", "strokeWidth": 1, "size": 30, "opacity": 1},
         "encoding": {
           "x": {"field": "conc", "type": "quantitative"},
           "y": {"field": "resp", "type": "quantitative"},
           "shape": {"field": "series", "type": "nominal", "scale": {"domain": ["syncytia", "GFP control"], "range": ["triangle-up", "circle"]}, "legend": {"title": null, "orient": "none", "legendX": 162, "legendY": 30, "encode": {"symbols": {"stroke": {"value": "black"}, "strokeWidth": {"value": 1}}}}},
           "fill": {"field": "series", "type": "nominal", "scale": {"domain": ["syncytia", "GFP control"], "range": ["black", "white"]}, "legend": {"title": null, "orient": "none", "legendX": 162, "legendY": 30, "encode": {"symbols": {"stroke": {"value": "black"}, "strokeWidth": {"value": 1}}}}}}}
      ]
    },
    {
      "title": {"text": "Salmeterol"},
      "width": 141, "height": 90,
      "layer": [
        {"data": {"name": "refs"}, "mark": {"type": "rule", "color": "black", "strokeWidth": 1},
         "encoding": {"y": {"field": "level", "type": "quantitative", "scale": {"domain": [0, 120], "nice": false}, "axis": {"title": ["response", "(% of vehicle control)"], "values": [0, 50, 100], "tickSize": 4}},
                      "strokeDash": {"field": "label", "type": "nominal", "scale": {"domain": ["no drug", "mock transfected acceptors", "no spike"], "range": [[1, 2], [5, 2, 1, 2], [3, 2]]}, "legend": null}}},
        {"data": {"name": "refs"}, "mark": {"type": "text", "align": "left", "baseline": "middle", "dx": 8, "fontSize": 10, "color": "black"},
         "encoding": {"x": {"value": "width"}, "y": {"field": "level", "type": "quantitative"}, "text": {"field": "label"}}},
        {"data": {"name": "ec50"}, "transform": [{"filter": "datum.drug == 'Salmeterol'"}], "mark": {"type": "text", "align": "left", "baseline": "middle", "dx": 8, "fontSize": 8, "color": "black"},
         "encoding": {"x": {"value": "width"}, "y": {"datum": -18, "type": "quantitative"}, "text": {"field": "note"}}},
        {"data": {"name": "curves"}, "transform": [{"filter": "datum.drug == 'Salmeterol'"}], "mark": {"type": "line", "color": "black", "strokeWidth": 1.1, "interpolate": "monotone"},
         "encoding": {"x": {"field": "conc", "type": "quantitative", "scale": {"type": "log", "domain": [7, 200], "nice": false},
                 "axis": {"title": "concentration [µM]", "values": [7, 8, 9, 10, 20, 30, 40, 50, 60, 70, 80, 90, 100, 200],
                          "labelExpr": "abs(log(datum.value)/LN10 - round(log(datum.value)/LN10)) < 0.01 ? format(datum.value, '~g') : ''",
                          "tickSize": {"condition": {"test": "abs(log(datum.value)/LN10 - round(log(datum.value)/LN10)) < 0.01", "value": 4}, "value": 2}}},
                      "y": {"field": "resp", "type": "quantitative"}, "detail": {"field": "series"}}},
        {"data": {"name": "points"}, "transform": [{"filter": "datum.drug == 'Salmeterol' && isValid(datum.lo)"}], "mark": {"type": "rule", "color": "black", "strokeWidth": 1},
         "encoding": {"x": {"field": "conc", "type": "quantitative"}, "y": {"field": "lo", "type": "quantitative"}, "y2": {"field": "hi"}}},
        {"data": {"name": "points"}, "transform": [{"filter": "datum.drug == 'Salmeterol' && isValid(datum.lo)"}], "mark": {"type": "tick", "orient": "horizontal", "color": "black", "size": 5, "thickness": 1, "opacity": 1},
         "encoding": {"x": {"field": "conc", "type": "quantitative"}, "y": {"field": "lo", "type": "quantitative"}}},
        {"data": {"name": "points"}, "transform": [{"filter": "datum.drug == 'Salmeterol' && isValid(datum.lo)"}], "mark": {"type": "tick", "orient": "horizontal", "color": "black", "size": 5, "thickness": 1, "opacity": 1},
         "encoding": {"x": {"field": "conc", "type": "quantitative"}, "y": {"field": "hi", "type": "quantitative"}}},
        {"data": {"name": "points"}, "transform": [{"filter": "datum.drug == 'Salmeterol'"}], "mark": {"type": "point", "filled": true, "stroke": "black", "strokeWidth": 1, "size": 30, "opacity": 1},
         "encoding": {
           "x": {"field": "conc", "type": "quantitative"},
           "y": {"field": "resp", "type": "quantitative"},
           "shape": {"field": "series", "type": "nominal", "scale": {"domain": ["syncytia", "GFP control"], "range": ["triangle-up", "circle"]}, "legend": {"title": null, "orient": "none", "legendX": 162, "legendY": 28, "encode": {"symbols": {"stroke": {"value": "black"}, "strokeWidth": {"value": 1}}}}},
           "fill": {"field": "series", "type": "nominal", "scale": {"domain": ["syncytia", "GFP control"], "range": ["black", "white"]}, "legend": {"title": null, "orient": "none", "legendX": 162, "legendY": 28, "encode": {"symbols": {"stroke": {"value": "black"}, "strokeWidth": {"value": 1}}}}}}}
      ]
    }
  ]
}
